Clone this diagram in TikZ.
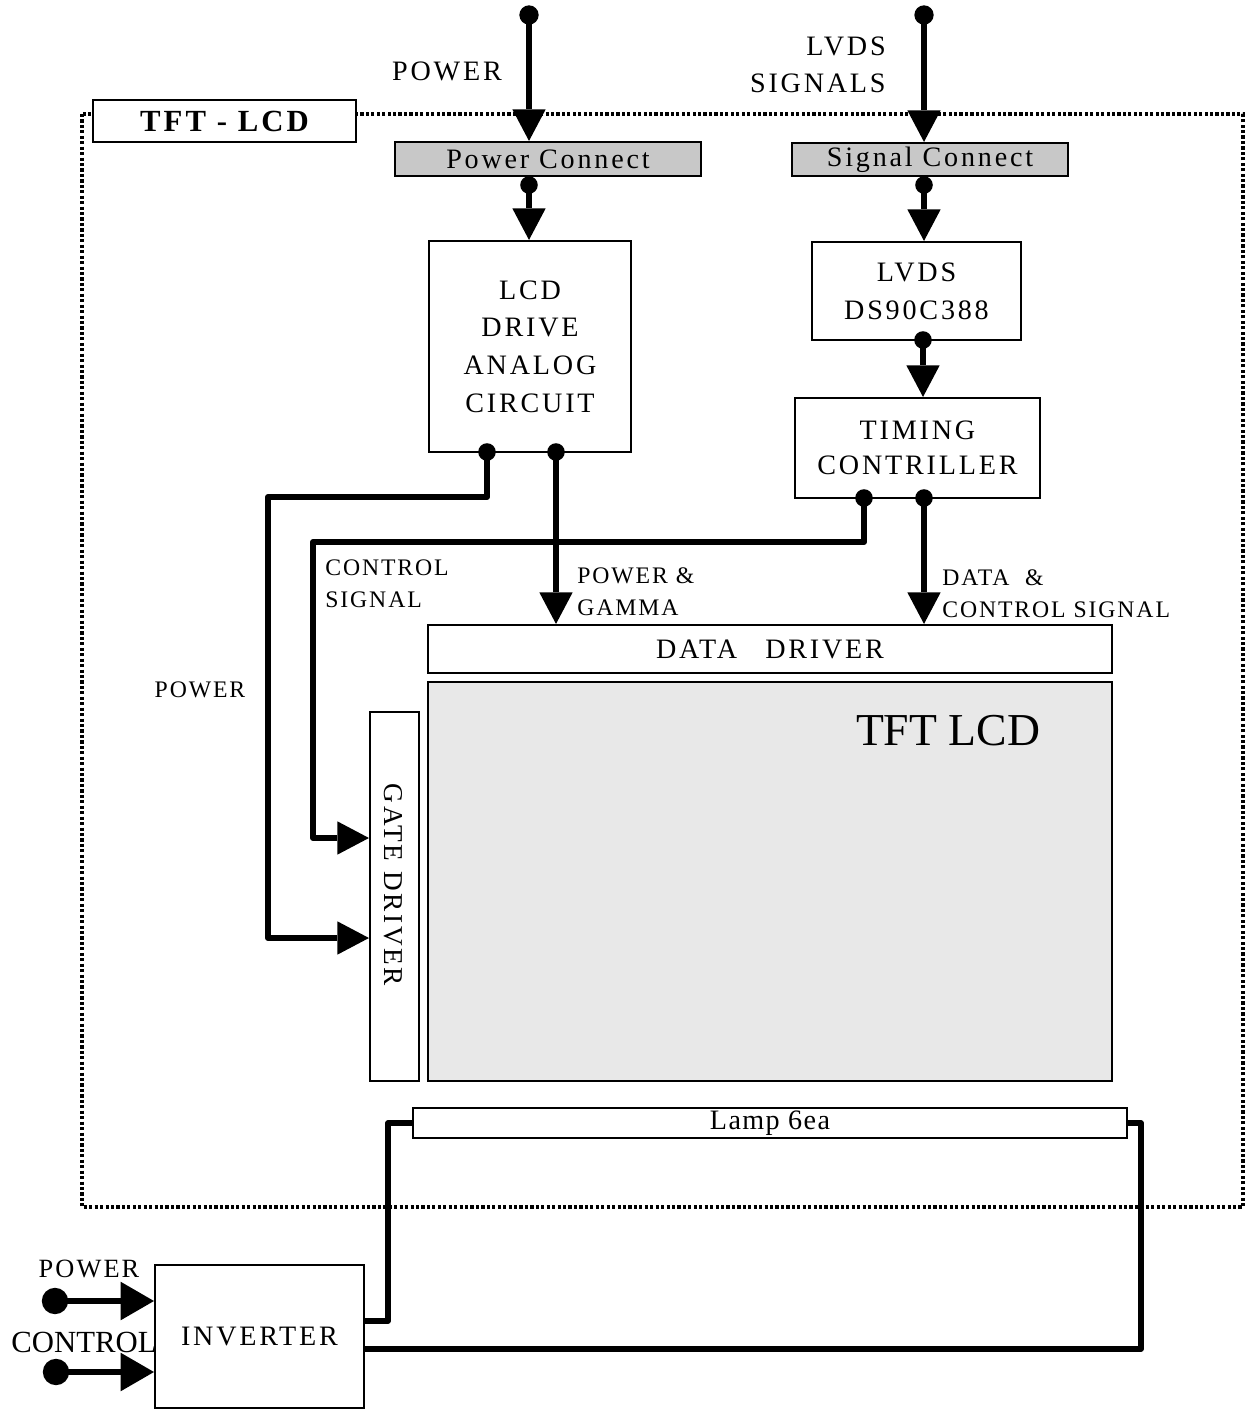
\documentclass[tikz,border=0pt]{standalone}
\usepackage{fontspec}
\setmainfont{Liberation Serif}
\newfontfamily\spc[LetterSpace=10]{Liberation Serif}
\newfontfamily\spl[LetterSpace=8]{Liberation Serif}
\newfontfamily\spn[LetterSpace=5]{Liberation Serif}
\usepackage{tikz}
\usetikzlibrary{arrows.meta}
\definecolor{connfill}{RGB}{200,200,200}
\definecolor{panelfill}{RGB}{232,232,232}

\tikzset{
  box/.style={draw, line width=1.2pt, inner sep=0pt, align=center,
    font=\spc\fontsize{16}{21.5}\selectfont},
  connbox/.style={box, fill=connfill},
  lbl/.style={inner sep=0pt, align=left, font=\spl\fontsize{13.5}{18}\selectfont},
  biglbl/.style={inner sep=0pt, align=center, font=\spc\fontsize{16}{21}\selectfont},
  dot/.style={circle, fill, inner sep=0pt, minimum size=11pt},
  arr/.style={line width=3.5pt, -{Triangle[length=18pt,width=19pt,line width=0pt]}},
  wire/.style={line width=3pt, line join=round},
}

\begin{document}
\begin{tikzpicture}[x=0.02cm, y=-0.02cm]
  \useasboundingbox (0,0) rectangle (1247,1415);

  % module outline
  \draw[line width=1.9pt, dash pattern=on 1.8pt off 1.3pt] (82,114) rectangle (1243,1207);
  \node[box, fill=white, minimum width=5.26cm, minimum height=0.84cm,
    font=\spc\bfseries\fontsize{17.5}{20}\selectfont] (title) at (224.5,121) {TFT - LCD};

  % connectors and blocks
  \node[connbox, minimum width=6.12cm, minimum height=0.68cm] (pc) at (548,159) {Power Connect};
  \node[connbox, minimum width=5.52cm, minimum height=0.66cm] (sc) at (930,159.5) {Signal Connect};
  \node[box, minimum width=4.04cm, minimum height=4.22cm] (drv) at (530,346.5)
    {LCD\\DRIVE\\ANALOG\\CIRCUIT};
  \node[box, minimum width=4.18cm, minimum height=1.96cm] (lvds) at (916.5,291) {LVDS\\DS90C388};
  \node[box, minimum width=4.9cm, minimum height=2.0cm,
    font=\spc\fontsize{16}{20}\selectfont] (tcon) at (917.5,448) {TIMING\\CONTRILLER};
  \node[box, minimum width=13.68cm, minimum height=0.96cm] (dd) at (770,649)
    {DATA\hspace{16pt}DRIVER};
  \node[box, fill=panelfill, minimum width=13.68cm, minimum height=7.98cm] (panel) at (770,881.5) {};
  \node[inner sep=0pt, font=\fontsize{26}{30}\selectfont] (paneltxt) at (948,731) {TFT LCD};
  \node[box, minimum width=0.98cm, minimum height=7.38cm] (gate) at (394.5,896.5) {};
  \node[inner sep=0pt, rotate=-90, font=\spc\fontsize{15.5}{18}\selectfont] (gatetxt) at (393,885) {GATE DRIVER};
  \node[box, minimum width=14.28cm, minimum height=0.6cm,
    font=\spn\fontsize{16}{16}\selectfont] (lamp) at (770,1123) {Lamp 6ea};
  \node[box, minimum width=4.18cm, minimum height=2.86cm] (inv) at (259.5,1336.5) {INVERTER};

  % dots
  \node[dot] (tp) at (529,15) {};
  \node[dot] (ts) at (924,15) {};
  \node[dot, minimum size=10pt] (pcd) at (529,185) {};
  \node[dot, minimum size=10pt] (scd) at (924,185) {};
  \node[dot, minimum size=10pt] (lvd) at (923,340) {};
  \node[dot, minimum size=10pt] (dr1) at (487,452) {};
  \node[dot, minimum size=10pt] (dr2) at (556,452) {};
  \node[dot, minimum size=10pt] (tc1) at (864,498) {};
  \node[dot, minimum size=10pt] (tc2) at (924,498) {};
  \node[dot, minimum size=15pt] (ip) at (55,1301) {};
  \node[dot, minimum size=15pt] (ic) at (56,1372) {};

  % signal paths
  \draw[arr] (tp.center) -- (tp.center |- pc.north);
  \draw[arr] (ts.center) -- (ts.center |- sc.north);
  \draw[arr] (pcd.center) -- (pcd.center |- drv.north);
  \draw[arr] (scd.center) -- (scd.center |- lvds.north);
  \draw[arr] (lvd.center) -- (lvd.center |- tcon.north);
  \draw[arr] (dr2.center) -- (dr2.center |- dd.north);
  \draw[arr] (tc2.center) -- (tc2.center |- dd.north);
  \coordinate (pw) at (268,497);
  \coordinate (cs) at (313,542);
  \draw[arr, line join=round] (dr1.center) |- (pw) |- (gate.west |- 0,938);
  \draw[arr, line join=round] (tc1.center) |- (cs) |- (gate.west |- 0,838);
  \draw[arr, -{Triangle[length=19pt,width=22pt,line width=0pt]}] (ip.center) -- (ip.center -| inv.west);
  \draw[arr, -{Triangle[length=19pt,width=22pt,line width=0pt]}] (ic.center) -- (ic.center -| inv.west);

  % lamp wires
  \coordinate (lw) at (388,1123);
  \coordinate (rw) at (1141,1123);
  \draw[wire] (inv.east |- 0,1321) -| (lw) -- (lamp.west);
  \draw[wire] (inv.east |- 0,1349) -| (rw) -- (lamp.east);

  % labels
  \node[biglbl] (lpow) at (447,71) {POWER};
  \node[biglbl, align=right, anchor=east] (llvds) at (886,65) {LVDS\\SIGNALS};
  \node[lbl, anchor=west] (lctl) at (325,584) {CONTROL\\SIGNAL};
  \node[lbl, anchor=west] (lgam) at (577,592) {POWER \&\\GAMMA};
  \node[lbl, anchor=west] (ldat) at (942,594) {DATA\ \ \&\\CONTROL SIGNAL};
  \node[lbl] (lgp) at (200,690) {POWER};
  \node[lbl, font=\spl\fontsize{15}{18}\selectfont] (lip) at (89,1269) {POWER};
  \node[inner sep=0pt, font=\fontsize{17.5}{20}\selectfont] (lic) at (84,1342) {CONTROL};
\end{tikzpicture}
\end{document}
